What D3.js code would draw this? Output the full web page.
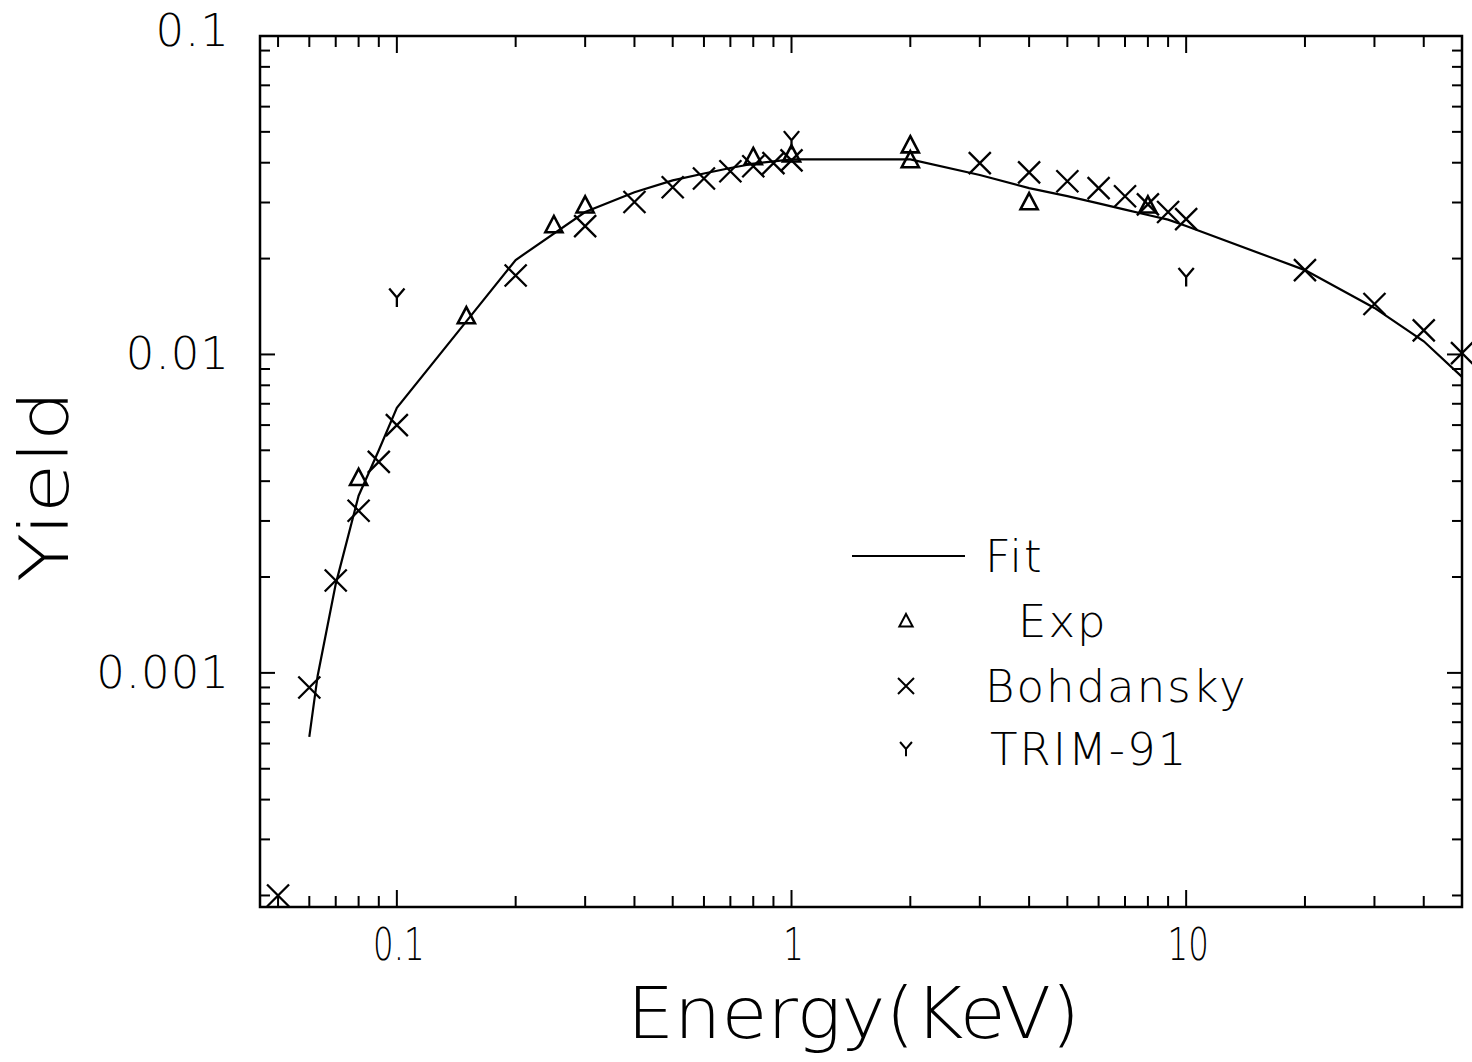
<!DOCTYPE html>
<html lang="en">
<head>
<meta charset="UTF-8">
<title>Yield vs Energy</title>
<script src="https://cdn.jsdelivr.net/npm/d3@7"></script>
<style>
  body { margin: 0; background: #fff; }
  text { font-family: "DejaVu Sans", sans-serif; fill: #000; }
</style>
</head>
<body>
<svg width="1472" height="1062"></svg>
<script>
// fit curve
const fitE = [0.06, 0.063, 0.07, 0.08, 0.09, 0.1, 0.15, 0.2, 0.3, 0.4, 0.5, 0.6, 0.7, 0.8, 0.9, 1, 2, 3, 4, 5, 6, 7, 8, 9, 10, 20, 30, 40, 50];
const fitY = [0.00063, 0.00098, 0.0019, 0.0036, 0.0050, 0.0068, 0.0127, 0.0198, 0.028, 0.0323, 0.0352, 0.0370, 0.0385, 0.0397, 0.0404, 0.0410, 0.0410, 0.0366, 0.0333, 0.0314, 0.0298, 0.0285, 0.0274, 0.0265, 0.0253, 0.0184, 0.0140, 0.0110, 0.0085];

// Exp (triangles)
const expE = [0.08, 0.15, 0.25, 0.3, 0.8, 1, 2, 2, 4, 8];
const expY = [0.0041, 0.0132, 0.0255, 0.0294, 0.0417, 0.0425, 0.0454, 0.0408, 0.0301, 0.0294];

// Bohdansky (crosses)
const bohE = [0.05, 0.06, 0.07, 0.08, 0.09, 0.1, 0.2, 0.3, 0.4, 0.5, 0.6, 0.7, 0.8, 0.9, 1, 3, 4, 5, 6, 7, 8, 9, 10, 20, 30, 40, 50];
const bohY = [0.0002, 0.0009, 0.00195, 0.00323, 0.0046, 0.006, 0.0177, 0.0253, 0.0301, 0.0335, 0.0357, 0.0376, 0.039, 0.0399, 0.0407, 0.0399, 0.0373, 0.035, 0.0333, 0.0314, 0.0296, 0.028, 0.0266, 0.0184, 0.0144, 0.0119, 0.0101];

// TRIM-91 (Y marks)
const trimE = [0.1, 1, 10];
const trimY = [0.0151, 0.0471, 0.0175];

const xTickValues = [0.1, 1, 10];
const xTickLabels = ["0.1", "1", "10"];
const yTickValues = [0.001, 0.01, 0.1];
const yTickLabels = ["0.001", "0.01", "0.1"];
const legendLabels = ["Fit", "Exp", "Bohdansky", "TRIM-91"];

const svg = d3.select("svg");
const L = 260, R = 1462, T = 36, B = 907;

const x = d3.scaleLog().domain([0.045, 50]).range([L, R]);
const y = d3.scaleLog().domain([0.000184, 0.1]).range([B, T]);

const isMajor = v => Math.abs(Math.log10(v) - Math.round(Math.log10(v))) < 1e-6;

// frame
svg.append("rect")
  .attr("x", L).attr("y", T).attr("width", R - L).attr("height", B - T)
  .attr("fill", "none").attr("stroke", "#000").attr("stroke-width", 2.5);

// x ticks, top and bottom, inward
const xt = x.ticks().filter(v => x(v) > L + 1 && x(v) < R - 1);
svg.append("g").selectAll("line.xb").data(xt).join("line")
  .attr("x1", d => x(d)).attr("x2", d => x(d))
  .attr("y1", B).attr("y2", d => B - (isMajor(d) ? 17 : 11))
  .attr("stroke", "#000").attr("stroke-width", 2);
svg.append("g").selectAll("line.xt").data(xt).join("line")
  .attr("x1", d => x(d)).attr("x2", d => x(d))
  .attr("y1", T).attr("y2", d => T + (isMajor(d) ? 17 : 11))
  .attr("stroke", "#000").attr("stroke-width", 2);

// y ticks, left and right, inward
const yt = y.ticks().filter(v => y(v) > T + 1 && y(v) < B - 1);
svg.append("g").selectAll("line").data(yt).join("line")
  .attr("y1", d => y(d)).attr("y2", d => y(d))
  .attr("x1", L).attr("x2", d => L + (isMajor(d) ? 15 : 10))
  .attr("stroke", "#000").attr("stroke-width", 2);
svg.append("g").selectAll("line").data(yt).join("line")
  .attr("y1", d => y(d)).attr("y2", d => y(d))
  .attr("x1", R).attr("x2", d => R - (isMajor(d) ? 15 : 10))
  .attr("stroke", "#000").attr("stroke-width", 2);

// tick labels
svg.append("g").selectAll("text").data(xTickValues).join("text")
  .attr("transform", d => `translate(${x(d) + 2},${960}) scale(0.72,1)`)
  .attr("text-anchor", "middle")
  .attr("font-size", 45)
  .attr("font-weight", 300)
  .text((d, i) => xTickLabels[i]);

svg.append("g").selectAll("text").data(yTickValues).join("text")
  .attr("x", 230).attr("y", d => y(d) + 15 - (d === 0.1 ? 5 : 0))
  .attr("text-anchor", "end")
  .attr("font-size", 45)
  .attr("font-weight", 300)
  .attr("letter-spacing", 1)
  .text((d, i) => yTickLabels[i]);

// axis titles
svg.append("text")
  .attr("x", 627).attr("y", 1038)
  .attr("font-size", 72).attr("font-weight", 300)
  .attr("textLength", 453).attr("lengthAdjust", "spacingAndGlyphs")
  .text("Energy(KeV)");

svg.append("text")
  .attr("transform", "translate(68,582) rotate(-90)")
  .attr("font-size", 68).attr("font-weight", 300)
  .attr("textLength", 192).attr("lengthAdjust", "spacingAndGlyphs")
  .text("Yield");

// fit line
const line = d3.line().x(d => x(d[0])).y(d => y(d[1]));
svg.append("path")
  .datum(fitE.map((e, i) => [e, fitY[i]]))
  .attr("d", line)
  .attr("fill", "none").attr("stroke", "#000").attr("stroke-width", 2.2);

// marker shapes
const triPath = s => `M0,${-s}L${s * 0.95},${s * 0.8}L${-s * 0.95},${s * 0.8}Z`;
const crossPath = s => `M${-s},${-s}L${s},${s}M${s},${-s}L${-s},${s}`;
const yPath = s => `M${-s * 0.85},${-s}L0,0L${s * 0.85},${-s}M0,0L0,${s * 1.05}`;

function drawMarks(E, Y, pathFn, size, sw) {
  svg.append("g").selectAll("path").data(E.map((e, i) => [e, Y[i]])).join("path")
    .attr("transform", d => `translate(${x(d[0])},${y(d[1])})`)
    .attr("d", pathFn(size))
    .attr("fill", "none").attr("stroke", "#000").attr("stroke-width", sw);
}
drawMarks(bohE, bohY, crossPath, 11, 2.3);
drawMarks(expE, expY, triPath, 9, 2.6);
drawMarks(trimE, trimY, yPath, 9, 2.3);

// legend
const lg = svg.append("g");
lg.append("line").attr("x1", 852).attr("x2", 965).attr("y1", 556).attr("y2", 556)
  .attr("stroke", "#000").attr("stroke-width", 2);
const legRows = [
  { y: 556, tx: 985 },
  { y: 621, tx: 1018, shape: triPath, s: 7 },
  { y: 686, tx: 985, shape: crossPath, s: 8 },
  { y: 749, tx: 990, shape: yPath, s: 7 }
];
legRows.forEach((r, i) => {
  if (r.shape) {
    lg.append("path").attr("transform", `translate(906,${r.y})`)
      .attr("d", r.shape(r.s)).attr("fill", "none")
      .attr("stroke", "#000").attr("stroke-width", 2);
  }
  lg.append("text").attr("x", r.tx).attr("y", r.y + 16)
    .attr("font-size", 45).attr("font-weight", 300)
    .attr("letter-spacing", 2)
    .text(legendLabels[i]);
});
</script>
</body>
</html>
